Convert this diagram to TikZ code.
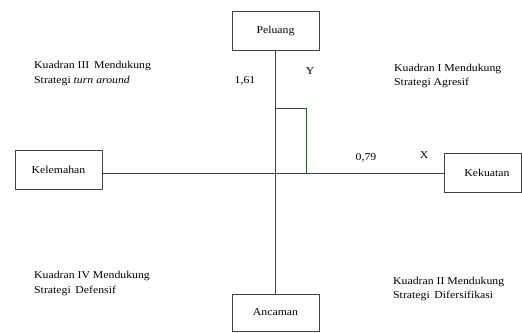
\documentclass[tikz,border=0pt]{standalone}
\usepackage{fontspec}
\setmainfont[FakeStretch=1.12]{Liberation Serif}
\tikzset{
	kotak/.style={draw=black!75, line width=0.6pt, minimum width=87pt, minimum height=39pt, inner sep=0pt},
	sumbu/.style={draw=black!75, line width=0.6pt},
	kuadran/.style={anchor=west, align=left, inner sep=0pt, font=\fontsize{10.5}{14.5}\selectfont},
	teks/.style={inner sep=0pt, font=\fontsize{10.5}{12}\selectfont}
}
\begin{document}
\begin{tikzpicture}[x=1pt, y=1pt]
		\useasboundingbox (0,0) rectangle (522,332);

		\node[kotak, teks] (peluang) at (275.5,301.5) {Peluang};
		\node[kotak, teks] (kelemahan) at (58.5,162.5) {Kelemahan};
		\node[kotak, teks, minimum width=77pt] (kekuatan) at (482.5,159.5) {\hspace*{9pt}Kekuatan};
		\node[kotak, teks, minimum height=37pt] (ancaman) at (275.5,19.5) {Ancaman};

		\coordinate (O) at (275,159);
		\coordinate (puncak) at (275,224);
		\coordinate (sudut) at (306,224);
		\coordinate (kaki) at (306,159);

		\draw[sumbu] (peluang.south) -- (ancaman.north);
		\draw[sumbu] (kelemahan.east |- O) -- (kekuatan.west |- O);

		\draw[sumbu] (puncak) -- (sudut);
		\draw[line width=0.6pt, green!45!black] (sudut) -- (kaki);

		\node[teks] (y) at (310,261) {Y};
		\node[teks] (nilaiy) at (245,251) {1,61};
		\node[teks] (nilaix) at (366,174) {0,79};
		\node[teks] (x) at (424,177) {X};

		\node[kuadran] (k3) at (34,258.5) {Kuadran III\, Mendukung\\Strategi \textit{turn around}};
		\node[kuadran] (k1) at (394,256) {Kuadran I Mendukung\\Strategi Agresif};
		\node[kuadran] (k4) at (34,48.5) {Kuadran IV Mendukung\\Strategi\, Defensif};
		\node[kuadran] (k2) at (393,43) {Kuadran II Mendukung\\Strategi\, Difersifikasi};
	\end{tikzpicture}
\end{document}
